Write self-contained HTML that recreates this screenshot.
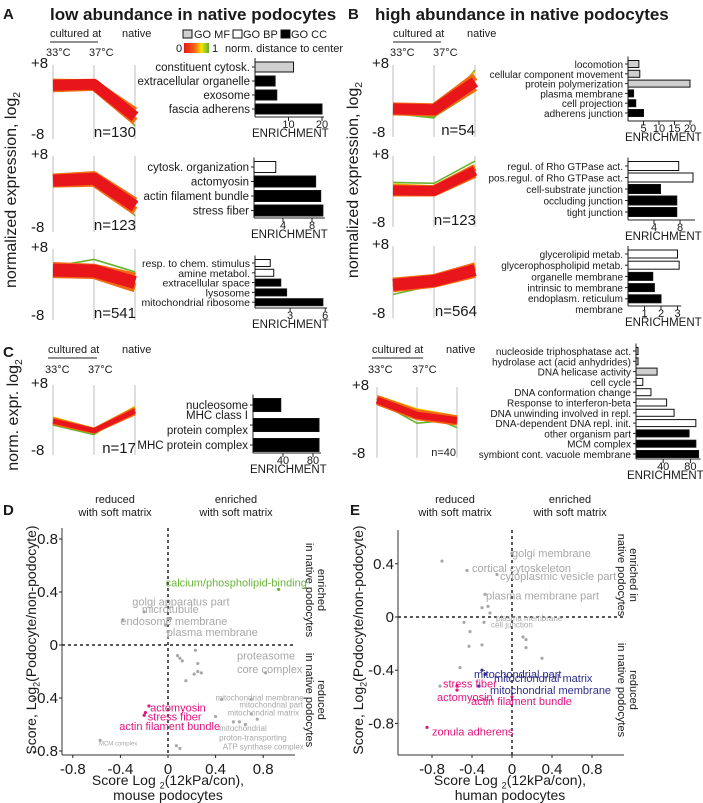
<!DOCTYPE html>
<html><head><meta charset="utf-8"><style>
body{margin:0;background:#fff;width:703px;height:803px;overflow:hidden}
svg{display:block;font-family:"Liberation Sans",sans-serif}
</style></head><body>
<svg id="fig" width="703" height="803" viewBox="0 0 703 803" xmlns="http://www.w3.org/2000/svg">
<defs><linearGradient id="grad" x1="0" x2="1"><stop offset="0" stop-color="#e8151b"/><stop offset="0.45" stop-color="#f06a10"/><stop offset="0.7" stop-color="#f7e600"/><stop offset="1" stop-color="#5fb02e"/></linearGradient></defs>
</svg>
<script>
// ---------- DATA ----------
const profA1 = [[3.2,3.4,-3.6],[3.8,3.6,-2.4],[2.5,2.8,-4.6],[4.4,4.4,-1.8],[4.2,4.0,-5.6],[2.2,2.4,-4.2]];
const colA1 = [0,1,1,2,3,2];
const profA2 = [[2.4,2.8,-3.0],[3.0,3.5,-2.0],[1.8,2.0,-4.0],[3.5,4.0,-2.4],[3.2,3.8,-5.0],[1.2,2.2,-3.6]];
const colA2 = [0,1,1,2,3,2];
const profA3 = [[2.8,2.6,0.0],[3.6,3.2,1.2],[2.0,1.8,-1.2],[4.0,3.8,1.8],[3.6,5.2,2.4],[1.5,1.4,-1.6]];
const colA3 = [0,1,1,2,3,2];
const profC = [[-0.7,-2.9,1.6],[-0.2,-2.6,2.2],[-1.2,-3.2,1.0],[0.2,-2.4,2.6],[-1.6,-3.8,2.2]];
const colC = [0,1,1,2,3];
const profB1 = [[-2.2,-2.4,3.8],[-1.6,-1.8,5.0],[-2.8,-3.0,2.6],[-1.2,-1.4,6.0],[-3.2,-4.2,6.4],[-3.0,-4.0,1.8]];
const colB1 = [0,1,1,2,3,3];
const profB2 = [[-0.2,-0.3,4.2],[0.4,0.2,5.0],[-0.8,-0.8,3.4],[1.2,0.8,5.4],[1.6,1.4,6.4],[-1.2,-1.2,3.0]];
const colB2 = [0,1,1,2,3,2];
const profB3 = [[-1.1,-0.2,2.2],[-0.4,0.4,3.0],[-1.8,-0.8,1.4],[0.0,0.8,3.6],[-3.2,-1.2,1.6],[-2.2,-1.4,0.8]];
const colB3 = [0,1,1,2,3,2];
const profB4 = [[4.6,1.2,0.0],[5.2,2.0,0.6],[4.0,0.6,-0.6],[5.6,2.6,1.0],[5.0,2.2,-1.6],[4.4,-0.6,0.2]];
const colB4 = [0,1,1,2,3,3];

const barA1Labels = ["constituent cytosk.","extracellular organelle","exosome","fascia adherens"];
const barA1Values = [11.5,6,6.5,20];
const barA1Types = ["MF","CC","CC","CC"];
const barA1Ticks = [10,20];
const barA2Labels = ["cytosk. organization","actomyosin","actin filament bundle","stress fiber"];
const barA2Values = [3,8.5,9.2,9.5];
const barA2Types = ["BP","CC","CC","CC"];
const barA2Ticks = [4,8];
const barA3Labels = ["resp. to chem. stimulus","amine metabol.","extracellular space","lysosome","mitochondrial ribosome"];
const barA3Values = [1.3,1.6,2.2,2.7,5.8];
const barA3Types = ["BP","BP","CC","CC","CC"];
const barA3Ticks = [3,6];
const barCLabels = ["nucleosome","MHC class I|protein complex","MHC protein complex"];
const barCValues = [37,88,88];
const barCTypes = ["CC","CC","CC"];
const barCTicks = [40,80];
const barB1Labels = ["locomotion","cellular component movement","protein polymerization","plasma membrane","cell projection","adherens junction"];
const barB1Values = [3.5,3.8,20,1.8,2.5,5];
const barB1Types = ["MF","MF","MF","CC","CC","CC"];
const barB1Ticks = [5,10,15,20];
const barB2Labels = ["regul. of Rho GTPase act.","pos.regul. of Rho GTPase act.","cell-substrate junction","occluding junction","tight junction"];
const barB2Values = [7.8,10,5,7.5,7.5];
const barB2Types = ["BP","BP","CC","CC","CC"];
const barB2Ticks = [4,8];
const barB3Labels = ["glycerolipid metab.","glycerophospholipid metab.","organelle membrane","intrinsic to membrane","endoplasm. reticulum|membrane"];
const barB3Values = [3.0,3.1,1.5,1.6,2.0];
const barB3Types = ["BP","BP","CC","CC","CC"];
const barB3Ticks = [1,2,3];
const barB4Labels = ["nucleoside triphosphatase act.","hydrolase act (acid anhydrides)","DNA helicase activity","cell cycle","DNA conformation change","Response to interferon-beta","DNA unwinding involved in repl.","DNA-dependent DNA repl. init.","other organism part","MCM complex","symbiont cont. vacuole membrane"];
const barB4Values = [3,3,31,10,22,45,56,88,78,88,92];
const barB4Types = ["MF","MF","MF","BP","BP","BP","BP","BP","CC","CC","CC"];
const barB4Ticks = [40,80];

const dX = [0.93,-0.2,-0.38,-0.02,0.0,0.0,0.02,0.08,0.1,0.12,0.23,0.25,0.22,0.25,0.28,0.15,0.82,0.45,0.7,0.7,0.75,0.4,0.55,0.6,0.65,0.07,0.1,-0.57,-0.16,-0.19,-0.2];
const dY = [0.42,0.25,0.19,0.15,0.1,0.2,0.2,-0.08,-0.1,-0.12,-0.04,-0.14,-0.22,-0.2,-0.21,-0.27,-0.21,-0.41,-0.41,-0.52,-0.56,-0.54,-0.58,-0.58,-0.6,-0.76,-0.78,-0.72,-0.46,-0.51,-0.53];
const dC = ["g","n","n","n","n","n","n","n","n","n","n","n","n","n","n","n","n","n","n","n","n","n","n","n","n","n","n","n","p","p","p"];
const dLabels = ["calcium/phospholipid-binding","golgi apparatus part","microtubule","endosome membrane","plasma membrane","proteasome","core complex","mitochondrial membrane","mitochondrial part","mitochondrial matrix","mitochondrial","proton-transporting","ATP synthase complex","MCM complex","actomyosin","stress fiber","actin filament bundle"];
const dLabX = [-0.02,-0.3,-0.22,-0.4,-0.01,0.58,0.58,0.4,0.6,0.5,0.43,0.43,0.46,-0.58,-0.15,-0.17,-0.41];
const dLabY = [0.47,0.33,0.27,0.18,0.1,-0.08,-0.18,-0.39,-0.44,-0.5,-0.62,-0.69,-0.76,-0.73,-0.47,-0.54,-0.61];
const dLabC = ["g","n","n","n","n","n","n","n","n","n","n","n","n","n","p","p","p"];
const dLabS = [11,11,11,11,11,11,11,8,8,8,8,8,8,6,11,11,11];

const eX = [-0.7,-0.45,-0.15,0.0,-0.27,-0.3,-0.24,-0.22,-0.48,-0.28,-0.42,-0.43,-0.3,0.11,0.14,0.14,0.3,-0.52,-0.72,-0.3,-0.27,-0.33,-0.55,-0.55,-0.85,0.0];
const eY = [0.42,0.35,0.32,0.48,0.17,0.07,0.08,0.03,-0.04,-0.04,-0.11,-0.22,-0.21,-0.15,-0.17,-0.23,-0.31,-0.38,-0.52,-0.4,-0.43,-0.52,-0.52,-0.55,-0.83,-0.6];
const eC = ["n","n","n","n","n","n","n","n","n","n","n","n","n","n","n","n","n","n","n","b","b","b","p","p","p","p"];
const eLabels = ["golgi membrane","cortical cytoskeleton","cytoplasmic vesicle part","plasma membrane part","plasma membrane","cell junction","mitochondrial part","mitochondrial matrix","mitochondrial membrane","stress fiber","actomyosin","actin filament bundle","zonula adherens"];
const eLabX = [0.0,-0.4,-0.12,-0.26,-0.16,-0.21,-0.38,-0.18,-0.22,-0.69,-0.75,-0.41,-0.8];
const eLabY = [0.48,0.37,0.31,0.16,0.0,-0.05,-0.43,-0.46,-0.55,-0.5,-0.6,-0.63,-0.86];
const eLabC = ["n","n","n","n","n","n","b","b","b","p","p","p","p"];
const eLabS = [11,11,11,11,8,8,11,11,11,11,11,11,11];

// ---------- RENDER ----------
const svg = document.getElementById('fig');
const NS = "http://www.w3.org/2000/svg";
function mk(tag, attrs, name){
  const el = document.createElementNS(NS, tag);
  for (const k in attrs) el.setAttribute(k, attrs[k]);
  
  
  svg.appendChild(el);
  return el;
}
function txt(x,y,s,size,name,opt){
  opt = opt||{};
  const el = mk('text',{x:x,y:y,'font-size':size,fill:opt.fill||'#1a1a1a','text-anchor':opt.anchor||'start','font-weight':opt.bold?'bold':'normal'},name);
  if(opt.rot) el.setAttribute('transform','rotate('+opt.rot+' '+x+' '+y+')');
  if(opt.sub){
    // s is [before, sub, after]
    el.appendChild(document.createTextNode(s[0]));
    const t = document.createElementNS(NS,'tspan');
    t.setAttribute('font-size', size*0.65);
    t.setAttribute('dy', size*0.25);
    t.textContent = s[1];
    el.appendChild(t);
    if(s[2]){
      const t2 = document.createElementNS(NS,'tspan');
      t2.setAttribute('dy', -size*0.25);
      t2.textContent = s[2];
      el.appendChild(t2);
    }
  } else el.textContent = s;
  return el;
}
function line(x1,y1,x2,y2,name,col,w,dash){
  const el = mk('line',{x1:x1,y1:y1,x2:x2,y2:y2,stroke:col||'#222','stroke-width':w||1},name);
  if(dash) el.setAttribute('stroke-dasharray',dash);
  return el;
}
const lineCols = ['#e8151b','#f26a12','#f5d000','#6ab32e'];

function linePanel(xs, top, bot, profs, cols, nLabel, nx, nsize, labX, name, core){
  const yS = v => top + (8 - v) / 16 * (bot - top);
  txt(labX, top+5, '+8', 15, name+'-ytick-top');
  txt(labX, bot+2, '-8', 15, name+'-ytick-bottom');
  xs.forEach((x,i)=>line(x, top+2, x, bot+2, name+'-timepoint-line', '#c8c8c8', 1.2));
  const order = profs.map((p,i)=>i).sort((a,b)=>cols[b]-cols[a]);
  order.forEach(i=>{
    const p = profs[i];
    const pts = p.map((v,j)=>xs[j]+','+yS(v)).join(' ');
    const w = cols[i]===0 ? core : (cols[i]===1 ? core*0.7 : 1.6);
    mk('polyline',{points:pts,fill:'none',stroke:lineCols[cols[i]],'stroke-width':w,'stroke-linejoin':'round'},name+'-profile-line');
  });
  txt(nx, bot, nLabel, nsize, name+'-n-count', {anchor:'end'});
}

const fills = {MF:'#cfcfcf', BP:'#ffffff', CC:'#000000'};
function barPanel(labels, values, types, ticks, x0, y0, step, h, ppu, axisY, fs, name, two, enrX){
  const yTop = y0 - h/2 - 4;
  line(x0, yTop, x0, axisY, name+'-y-axis');
  const maxT = ticks[ticks.length-1];
  const axEnd = Math.max(x0 + maxT*ppu, x0 + Math.max(...values)*ppu) + 2;
  line(x0, axisY, axEnd, axisY, name+'-x-axis');
  labels.forEach((lab,i)=>{
    const yc = y0 + i*step;
    mk('rect',{x:x0, y:yc-h/2, width:values[i]*ppu, height:h, fill:fills[types[i]], stroke:'#111', 'stroke-width':1},name+'-bar');
    line(x0-3, yc, x0, yc, name+'-y-tick');
    const parts = lab.split('|');
    if(parts.length===1) txt(x0-5, yc+4, lab, fs, name+'-category-label', {anchor:'end'});
    else { txt(x0-5, yc+two[0], parts[0], fs, name+'-category-label', {anchor:'end'}); txt(x0-5, yc+two[1], parts[1], fs, name+'-category-label', {anchor:'end'}); }
  });
  ticks.forEach(t=>{
    line(x0+t*ppu, axisY, x0+t*ppu, axisY+4, name+'-x-tick');
    txt(x0+t*ppu, axisY+11, String(t), 11, name+'-x-tick-label', {anchor:'middle'});
  });
  txt(enrX!==undefined?enrX:x0-3, axisY+20, 'ENRICHMENT', 11.5, name+'-x-axis-title');
}

// ---- Panel A ----
txt(3, 19, 'A', 15, 'panel-label-a', {bold:true});
txt(50, 20, 'low abundance in native podocytes', 17, 'panel-a-title', {bold:true});
txt(50, 37, 'cultured at', 11, 'panel-a-cultured-label');
line(50, 42, 98, 42, 'panel-a-cultured-underline');
txt(122, 37, 'native', 11, 'panel-a-native-label');
txt(46, 56, '33°C', 11, 'panel-a-33c-label');
txt(89, 56, '37°C', 11, 'panel-a-37c-label');
mk('rect',{x:183,y:30,width:9,height:8,fill:'#cfcfcf',stroke:'#111'},'legend-go-mf-swatch');
txt(194, 38, 'GO MF', 11, 'legend-go-mf-label');
mk('rect',{x:233,y:30,width:9,height:8,fill:'#fff',stroke:'#111'},'legend-go-bp-swatch');
txt(243, 38, 'GO BP', 11, 'legend-go-bp-label');
mk('rect',{x:281,y:30,width:9,height:8,fill:'#000',stroke:'#111'},'legend-go-cc-swatch');
txt(291, 38, 'GO CC', 11, 'legend-go-cc-label');
txt(176, 52, '0', 11, 'legend-gradient-min');
mk('rect',{x:184,y:43,width:25,height:10,fill:'url(#grad)'},'legend-color-gradient');
txt(212, 52, '1', 11, 'legend-gradient-max');
txt(225, 52, 'norm. distance to center', 11, 'legend-gradient-title');
txt(16, 190, ['normalized expression, log','2'], 16, 'panel-a-y-axis-title', {rot:-90, anchor:'middle', sub:true});

linePanel([53,94,135], 63, 137, profA1, colA1, 'n=130', 136, 15, 31, 'line-plot-a1', 11);
linePanel([53,94,135], 154, 230, profA2, colA2, 'n=123', 136, 15, 31, 'line-plot-a2', 12);
linePanel([53,94,135], 247, 318, profA3, colA3, 'n=541', 136, 15, 31, 'line-plot-a3', 13);

barPanel(barA1Labels, barA1Values, barA1Types, barA1Ticks, 255, 67, 14, 10, 3.35, 117, 11.5, 'bar-chart-a1');
barPanel(barA2Labels, barA2Values, barA2Types, barA2Ticks, 254, 167, 14.5, 11, 7.25, 218, 11.5, 'bar-chart-a2');
barPanel(barA3Labels, barA3Values, barA3Types, barA3Ticks, 255, 263, 9.8, 7, 11.7, 308, 10.5, 'bar-chart-a3');

// ---- Panel C ----
txt(3, 357, 'C', 15, 'panel-label-c', {bold:true});
txt(48, 353, 'cultured at', 11, 'panel-c-cultured-label');
line(48, 358, 97, 358, 'panel-c-cultured-underline');
txt(122, 353, 'native', 11, 'panel-c-native-label');
txt(45, 373, '33°C', 11, 'panel-c-33c-label');
txt(88, 373, '37°C', 11, 'panel-c-37c-label');
txt(18, 415, ['norm. expr. log','2'], 16, 'panel-c-y-axis-title', {rot:-90, anchor:'middle', sub:true});
linePanel([53,94,135], 383, 453, profC, colC, 'n=17', 136, 15, 31, 'line-plot-c', 5);
barPanel(barCLabels, barCValues, barCTypes, barCTicks, 253, 405, 20, 13, 0.75, 453, 11.5, 'bar-chart-c', [-6,9]);

// ---- Panel B ----
txt(348, 19, 'B', 15, 'panel-label-b', {bold:true});
txt(375, 20, 'high abundance in native podocytes', 17, 'panel-b-title', {bold:true});
txt(393, 37, 'cultured at', 11, 'panel-b-cultured-label');
line(393, 42, 441, 42, 'panel-b-cultured-underline');
txt(467, 37, 'native', 11, 'panel-b-native-label');
txt(390, 56, '33°C', 11, 'panel-b-33c-label');
txt(433, 56, '37°C', 11, 'panel-b-37c-label');
txt(358, 180, ['normalized expression, log','2'], 16, 'panel-b-y-axis-title', {rot:-90, anchor:'middle', sub:true});
linePanel([393,434,475], 63, 135, profB1, colB1, 'n=54', 475, 15, 372, 'line-plot-b1', 11);
linePanel([393,434,475], 154, 225, profB2, colB2, 'n=123', 476, 15, 372, 'line-plot-b2', 10);
linePanel([393,434,475], 244, 316, profB3, colB3, 'n=564', 477, 15, 372, 'line-plot-b3', 12);
barPanel(barB1Labels, barB1Values, barB1Types, barB1Ticks, 628, 64, 9.8, 7, 3.1, 121, 10, 'bar-chart-b1');
barPanel(barB2Labels, barB2Values, barB2Types, barB2Ticks, 628, 166, 11.5, 9, 6.5, 220, 10, 'bar-chart-b2');
barPanel(barB3Labels, barB3Values, barB3Types, barB3Ticks, 628, 254, 11.2, 8, 16.5, 306, 10, 'bar-chart-b3', [3,14]);

txt(372, 353, 'cultured at', 11, 'panel-b4-cultured-label');
line(372, 358, 423, 358, 'panel-b4-cultured-underline');
txt(446, 353, 'native', 11, 'panel-b4-native-label');
txt(368, 373, '33°C', 11, 'panel-b4-33c-label');
txt(412, 373, '37°C', 11, 'panel-b4-37c-label');
linePanel([377,417,457], 385, 456, profB4, colB4, 'n=40', 456, 11, 352, 'line-plot-b4', 7);
barPanel(barB4Labels, barB4Values, barB4Types, barB4Ticks, 636, 351, 10.3, 7, 0.68, 459, 10, 'bar-chart-b4', null, 627);

// ---- Scatter ----
const scCol = {n:'#a8a8a8', g:'#6cb43a', p:'#e2167f', b:'#2e2e8c'};
function scatter(cfg, xs, ys, cs, labs, lx, ly, lc, ls, name){
  const sx = v => cfg.x0 + v*cfg.px;
  const sy = v => cfg.y0 - v*cfg.py;
  line(cfg.left, cfg.top, cfg.left, cfg.bottom, name+'-y-axis', '#333');
  line(cfg.left, cfg.bottom, cfg.right, cfg.bottom, name+'-x-axis', '#333');
  line(sx(0), cfg.top, sx(0), cfg.bottom, name+'-x-zero-line', '#222', 1.5, '3,3');
  line(cfg.left, sy(0), cfg.right, sy(0), name+'-y-zero-line', '#222', 1.5, '3,3');
  cfg.xt.forEach(t=>{
    line(sx(t), cfg.bottom, sx(t), cfg.bottom+3, name+'-x-tick');
    txt(sx(t), cfg.bottom+19, t===0?'0':String(t), 15, name+'-x-tick-label', {anchor:'middle'});
  });
  cfg.yt.forEach(t=>{
    line(cfg.left-3, sy(t), cfg.left, sy(t), name+'-y-tick');
    txt(cfg.left-4, sy(t)+5, t===0?'0':String(t), 15, name+'-y-tick-label', {anchor:'end'});
  });
  xs.forEach((x,i)=>mk('circle',{cx:sx(x), cy:sy(ys[i]), r:1.6, fill:scCol[cs[i]]}, name+'-point'));
  labs.forEach((l,i)=>txt(sx(lx[i]), sy(ly[i])+4, l, ls[i], name+'-point-label', {fill:scCol[lc[i]]}));
}
txt(3, 515, 'D', 15, 'panel-label-d', {bold:true});
txt(115, 503, 'reduced', 11, 'panel-d-reduced-label', {anchor:'middle'});
txt(115, 516, 'with soft matrix', 11, 'panel-d-reduced-label-2', {anchor:'middle'});
txt(236, 503, 'enriched', 11, 'panel-d-enriched-label', {anchor:'middle'});
txt(236, 516, 'with soft matrix', 11, 'panel-d-enriched-label-2', {anchor:'middle'});
txt(318, 590, 'enriched', 11, 'panel-d-right-enriched', {rot:90, anchor:'middle'});
txt(306, 590, 'in native podocytes', 11, 'panel-d-right-enriched-2', {rot:90, anchor:'middle'});
txt(318, 700, 'reduced', 11, 'panel-d-right-reduced', {rot:90, anchor:'middle'});
txt(306, 700, 'in native podocytes', 11, 'panel-d-right-reduced-2', {rot:90, anchor:'middle'});
txt(36, 640, ['Score, Log','2','(Podocyte/non-podocyte)'], 14, 'panel-d-y-axis-title', {rot:-90, anchor:'middle', sub:true});
txt(168, 785, ['Score Log ','2','(12kPa/con),'], 14, 'panel-d-x-axis-title', {anchor:'middle', sub:true});
txt(168, 800, 'mouse podocytes', 14, 'panel-d-x-axis-title-2', {anchor:'middle'});
scatter({x0:168, px:119, y0:645, py:132.5, left:62, right:295, top:528, bottom:755, xt:[-0.8,-0.4,0,0.4,0.8], yt:[0.8,0.4,0,-0.4,-0.8]},
  dX, dY, dC, dLabels, dLabX, dLabY, dLabC, dLabS, 'scatter-d');

txt(350, 515, 'E', 15, 'panel-label-e', {bold:true});
txt(455, 503, 'reduced', 11, 'panel-e-reduced-label', {anchor:'middle'});
txt(455, 516, 'with soft matrix', 11, 'panel-e-reduced-label-2', {anchor:'middle'});
txt(570, 503, 'enriched', 11, 'panel-e-enriched-label', {anchor:'middle'});
txt(570, 516, 'with soft matrix', 11, 'panel-e-enriched-label-2', {anchor:'middle'});
txt(630, 575, 'enriched in', 11, 'panel-e-right-enriched', {rot:90, anchor:'middle'});
txt(618, 575, 'native podocytes', 11, 'panel-e-right-enriched-2', {rot:90, anchor:'middle'});
txt(630, 690, 'reduced', 11, 'panel-e-right-reduced', {rot:90, anchor:'middle'});
txt(618, 690, 'in native podocytes', 11, 'panel-e-right-reduced-2', {rot:90, anchor:'middle'});
txt(363, 640, ['Score, Log','2','(Podocyte/non-podocyte)'], 14, 'panel-e-y-axis-title', {rot:-90, anchor:'middle', sub:true});
txt(510, 785, ['Score Log ','2','(12kPa/con),'], 14, 'panel-e-x-axis-title', {anchor:'middle', sub:true});
txt(510, 800, 'human podocytes', 14, 'panel-e-x-axis-title-2', {anchor:'middle'});
scatter({x0:512, px:100, y0:617, py:133, left:398, right:624, top:530, bottom:755, xt:[-0.8,-0.4,0,0.4,0.8], yt:[0.4,0,-0.4,-0.8]},
  eX, eY, eC, eLabels, eLabX, eLabY, eLabC, eLabS, 'scatter-e');
</script>
</body></html>
